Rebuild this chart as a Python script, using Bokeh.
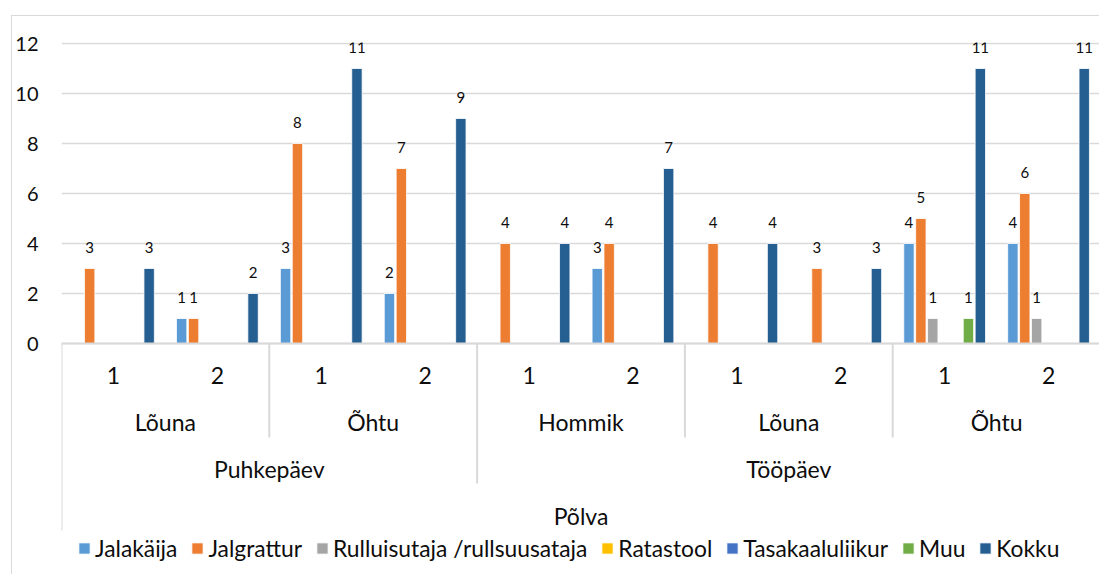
from bokeh.plotting import figure
from bokeh.models import Range1d, FixedTicker, ColumnDataSource, Legend, LegendItem
from bokeh.core.properties import value
from bokeh.embed import file_html
from bokeh.resources import INLINE

# ---- data ----
koht = "Põlva"
paev = ["Puhkepäev", "Puhkepäev", "Puhkepäev", "Puhkepäev",
        "Tööpäev", "Tööpäev", "Tööpäev", "Tööpäev", "Tööpäev", "Tööpäev"]
aeg = ["Lõuna", "Lõuna", "Õhtu", "Õhtu", "Hommik", "Hommik",
       "Lõuna", "Lõuna", "Õhtu", "Õhtu"]
nr = ["1", "2", "1", "2", "1", "2", "1", "2", "1", "2"]

series_names = ["Jalakäija", "Jalgrattur", "Rulluisutaja /rullsuusataja",
                "Ratastool", "Tasakaaluliikur", "Muu", "Kokku"]
jalakaija = [0, 1, 3, 2, 0, 3, 0, 0, 4, 4]
jalgrattur = [3, 1, 8, 7, 4, 4, 4, 3, 5, 6]
rulluisutaja = [0, 0, 0, 0, 0, 0, 0, 0, 1, 1]
ratastool = [0, 0, 0, 0, 0, 0, 0, 0, 0, 0]
tasakaaluliikur = [0, 0, 0, 0, 0, 0, 0, 0, 0, 0]
muu = [0, 0, 0, 0, 0, 0, 0, 0, 1, 0]
kokku = [3, 2, 11, 9, 4, 7, 4, 3, 11, 11]
series_values = [jalakaija, jalgrattur, rulluisutaja, ratastool,
                 tasakaaluliikur, muu, kokku]
colors = ["#5B9BD5", "#ED7D31", "#A5A5A5", "#FFC000", "#4472C4", "#70AD47", "#255E91"]
y_ticks = [0, 2, 4, 6, 8, 10, 12]

FONT = "Lato"
TXT = "#0d0d0d"
GRID = "#d9d9d9"
PX = 25.0  # pixels per unit on y

n = len(nr)
OFF_X, OFF_Y = 11, 15          # outer chart border position on the page
CX, CY = OFF_X + 1, OFF_Y + 1  # content origin inside the 1px border
W, H = 1100 - CX, 575 - CY
MB_LEFT, MB_TOP = 61 - CX, 42 - CY
FRAME_H = H - MB_TOP
p = figure(width=W, height=H,
           x_range=Range1d(0, n), y_range=Range1d(12.04 - FRAME_H / PX, 12.04),
           x_axis_type=None, output_backend="svg", toolbar_location=None,
           min_border_left=MB_LEFT, min_border_right=0, min_border_top=MB_TOP,
           min_border_bottom=0)
p.margin = (OFF_Y, 0, 0, OFF_X)
p.styles = {"border-left": "1px solid #d9d9d9", "border-top": "1px solid #d9d9d9"}
p.outline_line_color = None
p.background_fill_color = "white"

# y axis
ax = p.yaxis[0]
ax.ticker = FixedTicker(ticks=y_ticks)
ax.axis_line_color = None
ax.major_tick_line_color = None
ax.minor_tick_line_color = None
ax.major_tick_out = 0
ax.major_tick_in = 0
ax.minor_tick_out = 0
ax.major_label_text_font = FONT
ax.major_label_text_font_size = "20px"
ax.major_label_text_color = TXT
ax.major_label_standoff = 23
p.ygrid.ticker = FixedTicker(ticks=y_ticks)
p.ygrid.grid_line_color = GRID
p.ygrid.grid_line_width = 1.5

# bars
step = 0.1145
bw = 0.1
nan = float("nan")
legend_items = []
for j, (name, vals, col) in enumerate(zip(series_names, series_values, colors)):
    xs = [i + 0.5 + (j - 3) * step for i in range(n)]
    tops = [v if v > 0 else nan for v in vals]
    src = ColumnDataSource(dict(x=xs, top=tops))
    r = p.vbar(x="x", top="top", bottom=0, width=bw, source=src,
               fill_color=col, line_color="white", line_width=0.8)
    lx = [xs[i] for i in range(n) if vals[i] > 0]
    ly = [vals[i] for i in range(n) if vals[i] > 0]
    lsrc = ColumnDataSource(dict(x=lx, y=ly, lab=[str(v) for v in ly]))
    p.text(x="x", y="y", text="lab", source=lsrc, text_align="center",
           text_baseline="middle", y_offset=-21, text_font=value(FONT),
           text_font_size="15px", text_color=TXT)
    legend_items.append(LegendItem(label=name, renderers=[r], index=0))

# category axis (multi-level)
def py(page_y):
    return (343 - page_y) / PX

p.segment(x0=[0], y0=[0], x1=[n], y1=[0], line_color=GRID, line_width=2)

p.text(x=[i + 0.5 for i in range(n)], y=[py(375)] * n, text=nr,
       text_align="center", text_baseline="middle", text_font=value(FONT),
       text_font_size="23px", text_color=TXT)

def groups(keys):
    out = []
    start = 0
    for i in range(1, n + 1):
        if i == n or keys[i] != keys[start]:
            out.append((start, i, keys[start][-1]))
            start = i
    return out

g2 = groups([(paev[i], aeg[i]) for i in range(n)])
g3 = groups([(paev[i],) for i in range(n)])

p.text(x=[(a + b) / 2 for a, b, _ in g2], y=[py(421)] * len(g2),
       text=[t for _, _, t in g2], text_align="center", text_baseline="middle",
       text_font=value(FONT), text_font_size="23px", text_color=TXT)
p.text(x=[(a + b) / 2 for a, b, _ in g3], y=[py(468)] * len(g3),
       text=[t for _, _, t in g3], text_align="center", text_baseline="middle",
       text_font=value(FONT), text_font_size="23px", text_color=TXT)
p.text(x=[n / 2], y=[py(515)], text=[koht], text_align="center",
       text_baseline="middle", text_font=value(FONT), text_font_size="23px",
       text_color=TXT)

b2 = sorted(set(a for a, _, _ in g2) - set(a for a, _, _ in g3))
b3 = sorted(set(a for a, _, _ in g3) - {0})
sx = b2 + b3 + [0, n]
sy = [py(437)] * len(b2) + [py(483)] * len(b3) + [py(530)] * 2
p.segment(x0=sx, y0=[0] * len(sx), x1=sx, y1=sy, line_color=GRID, line_width=2)

legend = Legend(items=legend_items, orientation="horizontal", location=(16, 13),
                glyph_width=14, glyph_height=14, label_standoff=4, spacing=13,
                padding=0, margin=0, label_text_font=FONT,
                label_text_font_size="22.8px", label_text_color=TXT,
                background_fill_alpha=0, border_line_color=None)
p.add_layout(legend)

open("out.html", "w").write(file_html(p, INLINE))
